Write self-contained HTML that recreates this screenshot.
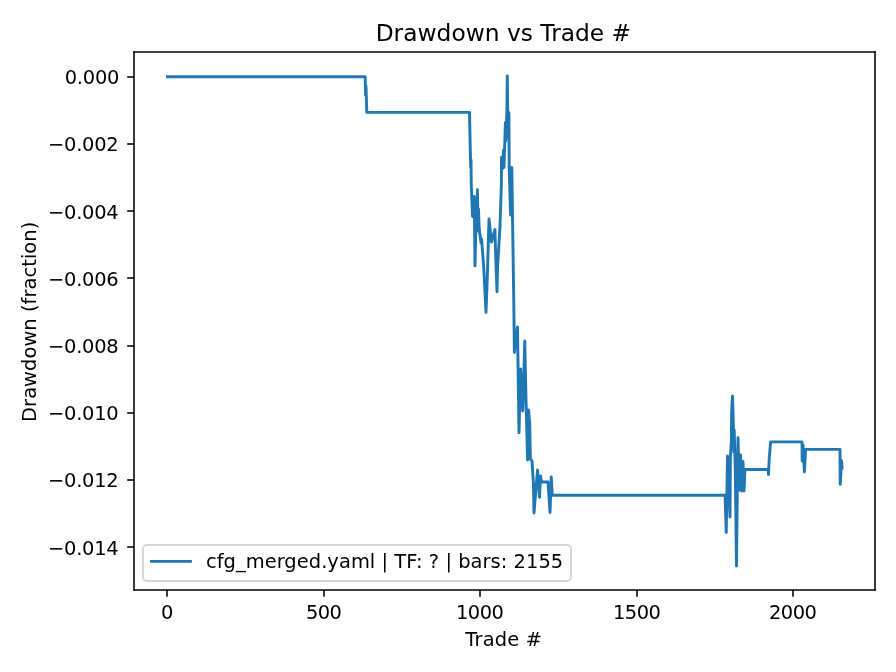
<!DOCTYPE html>
<html lang="en"><head><meta charset="utf-8"><title>Drawdown vs Trade #</title>
<style>html,body{margin:0;padding:0;background:#fff;overflow:hidden}svg{display:block}text{font-family:'DejaVu Sans', 'Liberation Sans', sans-serif;fill:#000;white-space:pre}</style></head>
<body>
<svg width="896" height="672" viewBox="0 0 896 672">
<rect x="0" y="0" width="896" height="672" fill="#fff"/>
<path d="M 167 590 V 596.81" stroke="#000" stroke-width="1.556" fill="none"/>
<text x="160.91" y="619.43" font-size="19.444">0</text>
<path d="M 324 590 V 596.81" stroke="#000" stroke-width="1.556" fill="none"/>
<text x="305.90" y="619.43" font-size="19.444" textLength="36.00" lengthAdjust="spacing">500</text>
<path d="M 480 590 V 596.81" stroke="#000" stroke-width="1.556" fill="none"/>
<text x="455.90" y="619.43" font-size="19.444" textLength="48.00" lengthAdjust="spacing">1000</text>
<path d="M 637 590 V 596.81" stroke="#000" stroke-width="1.556" fill="none"/>
<text x="612.90" y="619.43" font-size="19.444" textLength="48.00" lengthAdjust="spacing">1500</text>
<path d="M 793 590 V 596.81" stroke="#000" stroke-width="1.556" fill="none"/>
<text x="768.90" y="619.43" font-size="19.444" textLength="48.00" lengthAdjust="spacing">2000</text>
<path d="M 134 77 H 127.19" stroke="#000" stroke-width="1.556" fill="none"/>
<text x="64.73" y="84.00" font-size="19.444" textLength="54.70" lengthAdjust="spacing">0.000</text>
<path d="M 134 144 H 127.19" stroke="#000" stroke-width="1.556" fill="none"/>
<text x="48.00" y="151.00" font-size="19.444" textLength="70.70" lengthAdjust="spacing">−0.002</text>
<path d="M 134 211 H 127.19" stroke="#000" stroke-width="1.556" fill="none"/>
<text x="48.00" y="219.00" font-size="19.444" textLength="70.70" lengthAdjust="spacing">−0.004</text>
<path d="M 134 278 H 127.19" stroke="#000" stroke-width="1.556" fill="none"/>
<text x="48.00" y="286.00" font-size="19.444" textLength="70.70" lengthAdjust="spacing">−0.006</text>
<path d="M 134 346 H 127.19" stroke="#000" stroke-width="1.556" fill="none"/>
<text x="48.00" y="353.00" font-size="19.444" textLength="70.70" lengthAdjust="spacing">−0.008</text>
<path d="M 134 413 H 127.19" stroke="#000" stroke-width="1.556" fill="none"/>
<text x="48.00" y="420.00" font-size="19.444" textLength="70.70" lengthAdjust="spacing">−0.010</text>
<path d="M 134 480 H 127.19" stroke="#000" stroke-width="1.556" fill="none"/>
<text x="48.00" y="487.00" font-size="19.444" textLength="70.70" lengthAdjust="spacing">−0.012</text>
<path d="M 134 547 H 127.19" stroke="#000" stroke-width="1.556" fill="none"/>
<text x="48.00" y="555.00" font-size="19.444" textLength="70.70" lengthAdjust="spacing">−0.014</text>
<text x="465.35" y="646.18" font-size="19.444" textLength="76.70" lengthAdjust="spacing">Trade #</text>
<text transform="translate(35.60 421.90) rotate(-90)" font-size="19.444" textLength="200.20" lengthAdjust="spacing">Drawdown (fraction)</text>
<text x="375.65" y="41.00" font-size="23.333">Drawdown vs Trade #</text>
<path d="M 167.45 76.75 L 365.20 76.75 L 365.60 95.00 L 366.00 86.00 L 366.80 112.40 L 469.50 112.40 L 470.30 150.00 L 470.70 168.00 L 471.00 160.00 L 471.25 184.00 L 472.50 216.50 L 474.25 196.50 L 475.00 265.90 L 476.00 221.50 L 476.60 231.50 L 477.40 189.60 L 478.00 221.50 L 478.50 209.00 L 479.10 227.75 L 481.00 242.75 L 481.60 239.00 L 483.75 268.00 L 486.00 312.40 L 487.60 268.00 L 489.00 219.00 L 491.50 242.00 L 494.90 229.60 L 496.10 268.00 L 497.00 291.75 L 497.50 268.00 L 500.00 226.50 L 501.40 184.00 L 501.50 157.50 L 502.30 169.00 L 503.60 150.00 L 504.00 167.50 L 505.40 122.50 L 505.90 141.00 L 506.90 111.00 L 507.30 76.00 L 507.70 111.00 L 508.90 113.00 L 509.20 167.50 L 510.60 215.00 L 511.80 167.50 L 513.75 300.00 L 514.40 352.50 L 517.50 327.00 L 519.00 432.75 L 520.60 369.00 L 522.75 411.00 L 524.75 341.00 L 526.00 400.00 L 527.60 460.00 L 528.60 410.00 L 529.75 424.00 L 530.40 459.00 L 532.00 461.00 L 533.40 483.00 L 534.00 513.00 L 537.50 470.00 L 539.50 497.50 L 540.60 476.00 L 541.50 482.00 L 548.00 482.00 L 550.00 512.50 L 551.25 477.00 L 552.30 495.25 L 725.00 495.25 L 726.25 532.50 L 727.50 456.00 L 730.00 517.00 L 730.40 456.00 L 731.40 440.00 L 731.60 412.00 L 732.50 396.00 L 733.30 421.50 L 733.80 452.00 L 734.20 430.00 L 735.30 470.00 L 736.50 566.00 L 737.50 470.00 L 738.00 437.75 L 739.50 490.00 L 740.50 455.00 L 741.50 491.00 L 743.00 461.50 L 744.00 491.00 L 745.00 469.50 L 768.00 469.50 L 768.50 474.50 L 769.20 459.00 L 770.60 441.90 L 802.00 441.90 L 802.20 461.00 L 803.00 445.00 L 804.40 472.00 L 805.60 449.40 L 840.00 449.40 L 840.20 484.40 L 841.60 460.60 L 842.00 468.00" fill="none" stroke="#1f77b4" stroke-width="2.917" stroke-linejoin="round" stroke-linecap="square"/>
<path d="M 134 590 V 52" fill="none" stroke="#000" stroke-width="1.556" stroke-linecap="square"/>
<path d="M 875 590 V 52" fill="none" stroke="#000" stroke-width="1.556" stroke-linecap="square"/>
<path d="M 134 590 H 875" fill="none" stroke="#000" stroke-width="1.556" stroke-linecap="square"/>
<path d="M 134 52 H 875" fill="none" stroke="#000" stroke-width="1.556" stroke-linecap="square"/>
<rect x="143.00" y="545.00" width="428.00" height="36.00" rx="3.89" ry="3.89" fill="#fff" fill-opacity="0.8" stroke="#ccc" stroke-opacity="0.8" stroke-width="1.944"/>
<path d="M 151.50 561.40 H 190.40" fill="none" stroke="#1f77b4" stroke-width="2.917" stroke-linecap="square"/>
<text x="205.94" y="567.92" font-size="19.444" textLength="357.30" lengthAdjust="spacing">cfg_merged.yaml | TF: ? | bars: 2155</text>
</svg>
</body></html>
